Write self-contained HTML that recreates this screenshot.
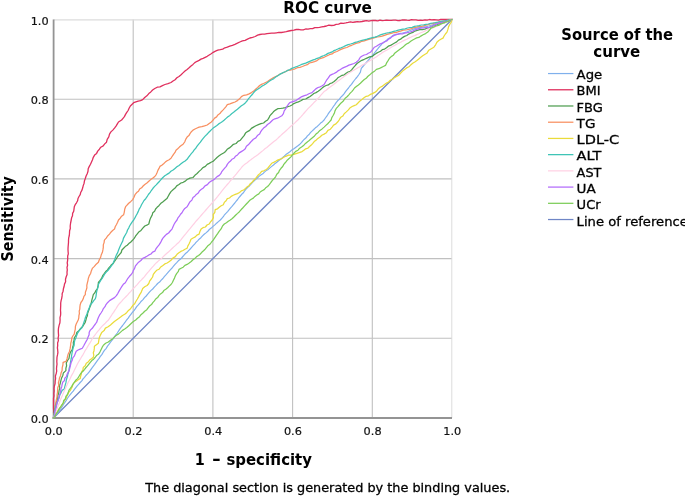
<!DOCTYPE html>
<html lang="en"><head><meta charset="utf-8"><title>ROC curve</title>
<style>html,body{margin:0;padding:0;background:#fff}body{width:685px;height:496px;overflow:hidden}svg{display:block}</style>
</head><body>
<svg width="685" height="496" viewBox="0 0 685 496">
<rect width="685" height="496" fill="#fff"/>
<g stroke="#c0c0c0" stroke-width="1.1" fill="none">
<line x1="133.2" y1="19.5" x2="133.2" y2="418.0"/>
<line x1="212.9" y1="19.5" x2="212.9" y2="418.0"/>
<line x1="292.6" y1="19.5" x2="292.6" y2="418.0"/>
<line x1="372.3" y1="19.5" x2="372.3" y2="418.0"/>
<line x1="53.5" y1="338.3" x2="452.0" y2="338.3"/>
<line x1="53.5" y1="258.6" x2="452.0" y2="258.6"/>
<line x1="53.5" y1="178.9" x2="452.0" y2="178.9"/>
<line x1="53.5" y1="99.2" x2="452.0" y2="99.2"/>
</g>
<g stroke="#dcdcdc" stroke-width="1" fill="none"><line x1="53.5" y1="19.9" x2="452.0" y2="19.9" stroke-width="1.3"/><line x1="451.8" y1="19.5" x2="451.8" y2="418.0"/></g>
<g stroke="#949494" stroke-width="1.8" fill="none"><line x1="53.6" y1="19.5" x2="53.6" y2="418.9"/><line x1="52.7" y1="418.0" x2="452.0" y2="418.0"/></g>
<g>
<polyline points="53.5,418.0 452.0,19.5" fill="none" stroke="#6f86c6" stroke-width="1.25" stroke-linejoin="round" stroke-linecap="round"/>
<polyline points="53.5,418.0 54.8,416.0 56.5,414.3 57.9,412.4 59.3,410.5 60.8,408.7 62.1,406.7 63.3,404.6 64.7,402.6 66.1,400.6 67.3,398.5 68.7,396.5 70.2,394.6 71.6,392.9 73.2,391.2 74.4,389.4 75.8,387.6 77.2,385.8 78.8,384.2 80.2,382.5 81.8,380.9 83.0,378.9 84.5,377.3 85.9,375.5 87.5,373.9 89.0,372.2 90.3,370.4 91.7,368.3 93.2,366.3 94.7,364.4 96.1,362.3 97.5,360.3 99.1,358.4 100.4,356.3 102.0,354.4 103.2,352.2 104.6,350.2 106.3,348.3 107.5,346.1 109.1,344.2 110.5,342.2 111.9,340.4 113.3,338.6 114.6,336.7 115.9,334.8 117.3,333.0 118.5,331.1 119.8,329.2 121.1,327.3 122.6,325.5 124.0,323.7 125.3,321.9 126.6,320.0 128.2,318.2 129.5,316.2 130.9,314.3 132.4,312.4 134.0,310.6 135.4,308.7 136.7,306.7 138.3,304.9 139.8,303.1 141.3,301.2 143.0,299.6 144.5,297.7 146.2,296.0 147.7,294.2 149.2,292.3 150.8,290.6 152.7,289.0 154.3,287.1 156.0,285.3 157.6,283.5 159.6,282.1 161.2,280.2 162.9,278.5 164.3,276.6 165.9,274.9 167.4,273.2 168.9,271.4 170.5,269.6 172.1,268.0 173.5,266.2 175.0,264.4 176.7,262.6 178.3,260.8 180.3,259.3 182.0,257.5 183.6,255.7 185.2,253.8 187.1,252.3 188.6,250.6 190.2,249.0 191.6,247.4 193.1,245.7 194.6,244.1 196.0,242.4 197.6,240.8 199.1,239.2 200.9,237.7 202.5,235.9 204.2,234.3 206.0,232.9 207.8,231.3 209.3,229.5 211.2,228.1 213.0,226.4 214.9,224.9 216.6,223.2 218.4,221.6 220.3,220.0 221.8,218.3 223.3,216.7 224.5,214.8 226.1,213.2 227.6,211.6 229.0,209.8 230.4,208.1 232.0,206.4 233.4,204.7 234.8,203.0 236.2,201.2 237.6,199.5 238.9,197.7 240.3,196.0 241.7,194.3 243.4,192.8 244.6,190.9 246.0,189.2 247.5,187.5 249.2,186.0 250.8,184.4 252.3,182.6 253.9,181.1 255.5,179.5 257.3,178.0 259.0,176.4 260.8,175.0 262.8,173.8 264.4,172.1 266.2,170.6 268.2,169.4 269.9,167.9 271.7,166.4 273.5,165.0 275.2,163.4 277.1,162.0 278.8,160.5 280.7,159.2 282.5,157.7 284.2,156.2 285.9,154.6 287.8,153.3 289.9,151.8 291.7,150.1 293.9,148.8 295.9,147.2 297.9,145.8 299.9,144.2 301.4,142.6 302.8,140.8 304.4,139.2 306.1,137.8 307.4,135.9 309.1,134.5 310.4,132.6 312.0,131.1 313.7,129.5 315.4,127.8 317.3,126.4 318.9,124.8 320.6,123.1 322.5,121.7 324.1,120.0 325.4,118.0 326.8,116.2 328.0,114.2 329.4,112.2 330.8,110.4 332.1,108.5 333.4,106.5 334.8,104.6 336.1,102.7 337.6,100.8 339.4,99.1 340.9,97.1 342.6,95.5 344.2,93.6 345.5,91.7 346.9,89.8 348.5,88.0 349.9,86.0 351.5,84.3 352.8,82.4 354.2,80.5 355.8,78.5 357.4,76.6 358.9,74.5 360.3,72.4 361.3,68.4 362.9,66.5 364.5,64.7 366.0,62.8 367.7,61.0 369.3,59.1 370.7,57.1 372.4,55.3 373.9,53.6 375.3,51.9 376.7,50.1 378.1,48.4 379.5,46.6 381.1,45.0 382.5,43.2 384.4,42.0 386.3,40.6 387.9,39.0 389.9,37.9 391.7,36.4 393.6,35.1 395.8,34.6 398.0,34.1 400.2,33.4 402.4,33.0 404.6,32.5 407.1,31.8 409.5,30.7 411.9,29.7 414.3,28.9 416.7,28.1 419.2,27.6 421.6,27.4 424.0,26.9 426.4,26.6 428.8,26.0 431.6,25.2 434.3,24.2 436.9,23.0 439.1,22.6 441.3,22.2 443.3,21.4 445.5,21.0 447.7,20.5 449.8,20.0 452.0,19.5" fill="none" stroke="#7fb0ec" stroke-width="1.2" stroke-linejoin="round" stroke-linecap="round"/>
<polyline points="53.5,418.0 53.8,415.5 53.6,413.0 53.7,410.6 53.5,408.1 53.5,405.6 53.5,403.1 53.5,400.6 53.5,398.2 54.0,395.8 53.8,393.4 54.2,391.0 54.0,388.5 54.4,386.0 55.1,383.6 55.2,381.0 55.6,378.5 55.4,376.0 56.2,373.6 56.7,371.2 56.5,368.8 56.7,366.4 57.0,364.1 56.8,361.8 56.9,359.4 57.0,357.1 57.5,354.9 57.9,352.6 57.7,350.2 57.4,347.8 57.7,345.4 57.6,343.0 58.4,340.6 58.1,338.1 58.6,335.6 58.4,333.1 58.3,330.6 58.5,328.1 59.1,325.4 59.9,322.8 60.1,320.0 60.0,317.6 60.6,315.2 60.7,312.8 60.5,310.3 60.6,307.9 60.7,305.5 60.7,303.0 61.1,300.6 61.7,298.3 62.1,295.9 62.2,293.5 63.1,291.2 63.4,288.8 64.1,286.5 64.5,284.1 65.6,281.8 65.5,279.2 66.2,276.8 67.1,274.4 67.0,272.1 67.3,269.8 67.0,267.5 67.6,265.2 67.2,262.9 67.6,260.6 67.7,258.3 67.7,256.0 68.3,253.8 68.1,251.5 68.0,249.2 68.1,247.0 68.3,244.7 68.5,242.4 68.5,240.2 68.7,237.8 69.3,235.5 69.5,233.1 69.6,230.8 70.3,228.5 70.2,226.0 70.6,223.0 71.2,220.0 71.6,217.8 72.5,215.7 72.6,213.4 73.7,211.3 74.0,209.1 74.3,206.8 75.2,204.7 76.5,202.8 77.6,200.8 78.0,198.5 79.0,196.5 80.2,194.6 80.8,192.2 82.0,190.1 82.7,187.8 83.3,185.4 84.1,183.2 84.5,180.7 85.3,178.5 86.1,176.0 87.2,173.7 88.0,171.3 88.2,168.7 89.3,166.4 90.5,164.2 91.5,161.9 92.5,159.7 93.3,157.3 94.6,155.1 96.6,153.4 97.7,151.1 99.4,149.2 100.8,147.2 103.2,145.9 104.7,143.9 106.5,142.2 107.2,139.4 108.8,136.9 109.5,134.1 110.9,131.9 112.8,130.1 114.5,128.1 116.0,126.1 117.2,124.1 118.5,122.0 121.6,120.0 123.0,118.3 124.4,116.6 125.4,114.6 126.6,112.7 128.1,110.5 129.2,108.0 130.6,105.7 133.7,102.7 135.9,101.9 138.2,101.1 140.5,100.6 142.7,99.6 144.7,97.5 146.9,95.8 148.8,93.6 150.8,91.9 152.6,90.0 154.8,88.5 157.2,87.2 160.0,86.9 162.4,85.6 164.9,84.5 168.0,83.6 171.0,82.5 173.0,81.0 175.1,79.7 176.9,77.8 179.0,76.5 181.1,74.7 183.0,72.9 185.0,71.0 187.1,69.4 189.1,67.8 191.0,66.0 193.0,64.4 194.8,62.6 197.1,61.3 199.1,60.4 201.0,59.1 203.1,58.3 205.2,57.3 207.2,56.3 209.2,55.0 211.2,53.7 213.2,52.3 215.5,51.1 217.8,50.2 220.3,49.7 222.7,49.1 224.9,47.8 227.3,47.2 229.8,46.1 232.4,45.3 234.9,44.3 237.4,43.2 239.8,42.0 242.4,40.9 245.1,40.4 247.5,39.2 249.9,38.0 252.6,37.3 255.2,36.5 257.6,35.1 259.9,34.5 262.2,34.1 264.6,34.2 267.0,33.6 269.3,33.3 271.7,33.1 274.1,33.2 276.5,32.8 278.9,32.4 281.4,32.5 283.8,32.1 286.3,31.7 288.8,31.0 291.3,30.5 293.9,30.1 296.2,29.5 298.5,29.3 300.9,29.8 303.3,29.8 305.6,29.0 308.0,29.1 310.3,28.7 312.6,28.7 314.8,27.6 317.2,27.7 319.5,27.3 321.8,26.8 324.1,26.5 326.5,26.0 328.8,25.2 331.3,25.5 333.8,25.3 336.1,24.4 338.6,24.2 340.9,23.2 343.4,23.3 345.8,22.9 348.2,22.4 350.5,21.8 352.8,22.4 355.1,22.0 357.4,21.7 359.7,21.8 362.0,21.5 364.3,21.0 366.6,20.6 368.8,21.1 371.0,20.7 373.3,20.4 375.5,20.5 377.8,20.9 380.0,20.1 382.2,20.6 384.5,20.4 386.7,20.1 389.0,20.4 391.2,20.3 393.5,20.1 395.7,20.1 398.0,20.6 400.2,20.5 402.5,19.8 404.7,20.0 407.0,20.2 409.2,20.3 411.5,19.7 413.7,19.9 416.0,19.8 418.2,20.3 420.5,20.2 422.7,20.3 425.0,19.8 427.2,20.2 429.5,19.5 431.7,19.8 434.0,19.6 436.2,19.8 438.5,20.1 440.7,19.5 443.0,19.5 445.2,19.5 447.5,19.5 449.7,19.5 452.0,19.5" fill="none" stroke="#e0305e" stroke-width="1.3" stroke-linejoin="round" stroke-linecap="round"/>
<polyline points="53.5,418.0 53.8,415.3 54.3,412.6 54.4,409.9 55.3,407.8 55.4,405.4 56.0,403.2 56.9,401.0 57.6,398.4 57.8,395.7 58.7,393.1 59.1,390.4 59.8,388.1 59.5,385.8 60.2,383.5 60.7,381.3 61.5,378.2 62.9,375.2 63.3,373.0 65.9,370.6 65.9,368.1 66.6,365.7 66.3,363.1 67.4,360.7 69.0,358.5 69.3,356.3 69.8,354.1 70.8,351.6 72.4,349.4 72.6,347.1 73.4,345.0 73.3,342.5 74.0,340.2 74.5,337.5 76.1,335.1 76.8,332.5 78.9,330.6 80.6,328.4 82.7,326.5 83.9,324.4 85.2,322.3 85.9,320.0 86.4,317.8 87.4,315.7 87.6,313.4 88.4,311.3 89.2,309.1 89.9,307.0 90.8,304.9 91.3,302.7 91.9,299.9 92.6,297.3 93.3,294.6 94.9,292.7 95.9,290.5 97.4,288.5 98.1,285.6 98.4,282.5 100.1,280.4 101.7,278.2 102.7,275.6 104.4,273.4 105.7,271.6 107.5,270.1 108.6,268.1 110.2,266.5 111.5,264.7 113.4,263.3 114.5,261.3 116.2,259.0 117.7,256.5 119.6,254.3 121.2,252.5 121.9,250.0 123.6,248.2 125.2,246.6 127.2,245.3 128.8,243.6 130.6,242.2 132.5,240.3 134.2,238.4 135.5,236.2 137.1,234.1 138.7,232.1 141.0,230.4 142.8,228.2 144.8,226.0 146.8,225.2 148.8,224.0 149.8,220.0 150.8,217.6 152.1,215.3 152.8,212.7 154.6,211.2 155.6,209.0 157.1,207.3 158.9,205.7 160.6,203.6 162.7,202.0 164.8,200.3 166.9,198.6 168.2,196.2 169.5,193.9 171.0,191.6 173.0,189.8 175.1,188.1 176.7,185.9 179.0,184.5 180.9,183.0 183.2,182.3 185.3,181.1 187.1,179.5 189.9,178.1 193.0,177.5 194.9,175.3 197.1,173.5 199.1,171.4 201.1,169.6 202.9,167.6 205.4,166.4 207.2,164.4 209.2,163.4 211.1,162.3 213.2,161.3 215.1,159.4 217.0,157.5 219.1,155.8 221.3,154.3 223.6,153.0 225.6,151.4 227.2,149.3 229.4,147.9 231.4,146.2 233.4,144.3 236.1,143.5 238.0,141.4 240.4,140.2 242.2,137.9 244.1,135.6 245.5,133.1 247.5,131.6 249.7,130.4 251.4,128.4 253.5,127.1 255.9,125.7 258.4,124.6 260.9,123.7 263.6,123.0 265.5,121.3 267.6,120.0 268.9,117.9 270.0,115.6 271.7,113.8 273.4,111.8 275.5,110.1 277.7,108.7 280.3,108.5 282.8,108.1 285.4,107.6 287.8,106.7 290.0,106.0 292.0,105.0 293.8,103.6 295.9,102.7 298.4,101.9 300.8,100.8 303.0,99.4 305.7,99.0 308.0,97.6 310.1,96.5 312.0,95.1 313.8,93.5 316.0,92.6 318.2,91.2 320.2,89.8 322.1,88.1 324.1,86.5 326.1,85.5 328.3,84.9 330.1,83.5 332.2,82.8 334.1,81.5 336.1,79.8 337.8,77.8 340.1,76.5 342.1,75.3 344.3,74.8 346.1,73.2 348.0,72.0 350.2,71.4 352.0,69.4 353.6,67.3 355.4,65.3 357.3,63.3 359.5,61.8 361.8,60.3 364.3,59.3 366.9,58.1 369.6,56.9 372.4,56.3 374.2,54.7 376.2,53.4 378.3,52.3 380.5,51.2 382.3,49.7 384.6,49.1 386.5,47.8 388.3,46.2 390.6,45.4 392.5,44.2 394.6,43.0 396.7,41.9 398.4,40.1 400.6,39.2 402.5,37.6 404.5,36.4 406.8,35.5 408.7,34.1 410.7,33.2 412.9,32.4 414.7,31.1 417.2,30.4 419.7,29.7 422.3,29.7 424.8,29.1 427.5,28.0 430.2,27.2 432.9,26.0 435.6,25.5 438.2,24.4 440.9,23.6 443.2,23.1 445.5,22.3 447.6,21.3 449.8,20.3 452.0,19.5" fill="none" stroke="#4f9e50" stroke-width="1.25" stroke-linejoin="round" stroke-linecap="round"/>
<polyline points="53.5,418.0 53.9,415.7 54.3,413.4 55.0,411.1 55.0,408.7 55.8,406.4 55.9,404.0 56.0,401.6 56.4,399.3 57.0,397.0 57.1,394.6 57.5,392.3 57.6,389.9 57.8,387.5 58.8,385.2 58.4,382.8 59.1,380.5 59.5,377.9 60.6,375.4 61.1,372.8 62.1,370.4 62.2,367.7 62.9,365.0 63.1,362.3 66.1,361.3 67.0,359.0 67.5,356.6 68.1,354.3 69.5,351.4 70.2,348.2 70.6,345.7 70.8,343.2 71.5,340.7 71.8,338.1 72.8,336.0 74.2,334.1 74.7,331.6 75.3,329.1 75.4,326.5 76.2,324.0 77.2,322.0 78.2,320.0 78.8,317.8 78.9,315.6 79.4,313.5 79.2,311.2 79.8,309.1 79.9,306.9 80.2,304.7 80.9,302.5 82.3,300.7 83.3,298.6 83.9,296.4 85.3,294.6 85.4,292.2 86.2,290.0 86.9,287.7 86.8,285.3 87.3,283.1 87.9,280.8 88.3,278.5 89.2,275.9 90.6,273.5 91.3,270.9 92.3,268.4 94.4,266.4 96.2,264.2 98.4,262.3 99.3,259.8 100.6,257.4 101.3,254.7 102.4,252.3 102.9,249.9 103.3,247.4 103.3,244.9 104.1,242.6 104.4,240.2 106.2,238.2 107.6,236.0 109.5,234.1 110.9,232.2 112.6,230.5 114.5,229.1 115.2,226.7 116.5,224.5 117.6,222.3 118.5,220.0 120.2,218.2 121.6,216.2 123.6,214.8 124.3,212.1 124.7,209.3 125.6,206.7 127.3,204.8 129.0,203.0 130.9,201.4 132.7,199.6 134.0,197.3 135.0,194.7 136.7,192.6 138.5,191.2 139.6,189.1 141.6,187.8 143.1,186.0 144.8,184.5 146.9,183.0 148.8,181.3 150.7,179.6 152.9,178.1 154.8,176.5 156.2,174.6 157.1,172.5 157.9,170.4 159.0,168.4 159.9,166.4 161.8,165.2 163.6,163.7 165.3,162.1 167.1,160.7 169.1,159.7 171.0,158.3 172.2,156.3 173.5,154.3 175.0,152.4 176.0,150.2 177.7,148.7 179.4,147.1 181.2,145.6 183.1,144.2 184.7,142.0 185.7,139.4 187.1,137.1 188.9,135.6 190.0,133.6 191.4,131.7 193.0,130.1 195.0,129.0 197.1,128.0 199.1,127.1 201.9,126.7 204.5,125.9 207.2,125.0 209.2,123.4 211.4,121.9 213.2,120.0 214.6,118.1 216.6,116.9 217.9,114.9 219.9,113.6 221.3,111.7 222.9,110.1 224.5,108.4 226.0,106.6 227.3,104.7 229.9,103.9 232.5,102.9 235.0,102.0 237.4,100.6 239.6,98.8 241.4,96.6 243.8,95.3 246.6,94.9 249.1,93.9 251.5,92.6 253.7,91.1 255.6,89.2 257.7,87.5 259.6,85.5 261.5,84.4 263.6,83.5 265.6,82.5 267.6,81.5 269.6,80.1 271.6,78.8 273.6,77.5 275.7,76.5 277.8,75.6 279.7,74.3 281.7,73.3 283.8,72.5 285.8,71.5 287.8,70.4 290.3,70.1 292.7,69.5 295.1,68.8 297.4,67.7 299.9,67.4 302.4,66.5 304.8,65.5 307.3,64.7 309.5,63.0 312.0,62.3 314.5,61.6 317.0,60.6 319.1,59.0 321.6,58.1 324.1,57.3 326.7,56.0 329.3,54.7 332.1,53.9 334.3,52.3 336.9,51.5 339.3,50.2 341.7,49.2 344.2,48.2 346.8,47.5 349.2,46.2 351.7,45.3 354.2,44.2 356.7,43.2 359.3,42.6 361.7,41.3 364.3,40.8 367.0,39.9 369.7,39.1 372.4,38.3 374.8,37.7 377.2,37.0 379.7,36.7 382.1,36.1 384.5,35.3 387.1,34.3 389.9,33.7 392.0,33.1 394.2,32.5 396.4,32.5 398.5,31.6 400.6,31.1 403.2,30.2 406.0,30.0 408.7,29.3 411.4,28.7 414.0,27.7 416.7,27.1 419.0,26.3 421.4,26.5 423.7,25.9 426.0,25.2 428.3,24.7 430.5,23.7 432.9,23.6 435.2,23.0 437.7,22.7 440.1,22.4 442.5,21.9 444.8,21.0 447.2,20.3 449.7,20.3 452.0,19.5" fill="none" stroke="#f88f60" stroke-width="1.25" stroke-linejoin="round" stroke-linecap="round"/>
<polyline points="53.5,418.0 54.9,416.2 55.7,414.0 57.0,412.2 58.2,410.3 59.6,408.4 60.9,406.6 62.1,404.7 63.4,402.8 64.2,400.5 65.9,398.8 66.6,396.6 67.8,394.5 68.7,392.4 70.2,390.6 71.2,388.6 72.3,386.6 72.9,384.4 74.2,382.5 76.3,381.3 78.2,379.8 80.2,378.5 80.7,376.2 81.3,374.0 81.7,371.7 82.9,369.7 83.3,367.4 85.2,365.7 86.3,363.3 88.2,362.0 89.6,360.1 91.5,358.7 93.3,357.3 93.8,355.1 93.3,352.8 94.0,350.7 94.3,348.4 94.4,346.2 96.4,344.7 98.4,343.2 98.8,340.4 99.3,337.7 100.4,335.1 101.7,332.5 104.1,330.6 105.4,328.1 108.1,326.8 110.5,325.0 112.4,323.3 114.4,321.6 116.5,320.0 118.6,318.6 120.6,317.1 122.5,315.5 124.7,314.3 126.6,312.7 128.1,310.8 130.0,309.3 131.5,307.4 132.9,305.3 134.7,303.7 136.0,301.3 137.4,299.0 138.7,296.6 139.7,294.6 141.0,292.7 141.9,290.6 142.7,288.5 144.7,286.8 147.1,285.5 148.8,283.5 149.6,281.1 151.2,279.0 152.6,277.0 153.3,274.4 154.8,272.4 156.6,270.3 159.1,269.2 160.7,267.0 162.9,265.4 164.8,263.9 167.1,263.0 169.0,261.7 171.0,260.3 172.8,258.1 175.3,256.6 177.0,254.3 178.9,252.8 180.8,251.4 183.0,250.5 185.0,249.2 187.1,248.2 187.9,245.9 189.1,243.7 190.1,241.5 191.0,239.2 193.1,238.0 195.3,236.9 196.9,235.1 199.1,234.1 199.9,231.5 201.1,229.1 203.0,227.7 205.4,227.0 207.0,225.0 209.2,224.0 210.5,221.9 212.2,220.0 213.4,217.6 213.2,214.7 214.8,212.4 215.2,209.7 217.5,208.8 219.2,207.2 221.2,205.7 223.3,204.7 224.3,202.4 226.1,200.7 227.3,198.6 229.5,198.0 231.2,196.4 233.2,195.3 235.3,194.4 237.4,193.6 239.6,192.5 241.3,190.9 243.6,190.0 245.5,188.5 247.1,186.9 249.0,185.7 250.3,183.7 252.1,182.3 253.5,180.5 255.3,178.8 256.8,176.9 258.3,175.0 260.1,173.4 261.6,171.4 263.8,170.8 265.8,169.7 267.6,168.4 269.6,165.8 271.7,163.3 273.7,162.4 275.7,161.3 277.6,160.1 279.7,159.3 281.9,158.5 283.8,157.3 285.8,156.3 288.4,155.2 291.2,155.2 293.9,154.3 296.9,153.3 299.9,152.3 302.1,151.6 303.9,150.2 305.7,148.8 308.0,148.2 309.5,146.5 311.3,145.1 312.8,143.4 314.2,141.6 316.0,140.2 317.9,138.4 320.0,137.0 321.8,135.2 324.1,134.1 326.4,132.7 327.9,130.4 330.4,129.2 332.1,127.1 333.6,125.1 335.9,123.9 337.6,122.0 339.1,120.0 340.5,117.6 342.8,116.1 344.2,113.8 346.3,111.9 348.4,109.9 350.2,107.7 352.1,106.5 354.2,105.6 356.3,104.7 358.2,102.8 360.0,100.9 362.2,99.3 364.3,97.6 366.2,96.3 368.4,95.8 370.3,94.4 372.4,93.6 374.7,92.4 376.7,90.9 378.3,88.9 380.2,87.2 382.5,86.1 384.5,84.5 386.5,83.1 388.6,82.0 390.3,80.2 392.6,79.2 394.4,77.6 396.6,76.5 398.9,75.1 400.7,73.0 402.6,71.1 404.6,69.4 406.6,67.9 409.0,66.8 410.7,64.9 412.7,63.3 414.8,62.0 416.9,60.5 418.8,58.9 420.8,57.3 422.7,55.8 424.7,54.5 426.8,53.3 428.8,50.2 431.3,48.7 433.9,47.2 435.6,44.8 436.9,42.2 438.8,40.6 440.8,39.3 443.0,38.1 444.1,36.0 445.4,34.0 447.0,32.1 447.9,29.4 448.6,26.6 450.0,24.0 451.4,21.9 452.0,19.5" fill="none" stroke="#eadb3a" stroke-width="1.25" stroke-linejoin="round" stroke-linecap="round"/>
<polyline points="53.5,418.0 54.0,415.6 54.3,413.2 54.9,410.9 55.2,408.5 56.2,406.1 56.9,403.6 57.7,401.0 58.3,398.9 59.3,396.9 59.9,394.8 61.1,392.6 62.1,390.4 64.3,389.0 65.0,385.8 65.9,382.7 66.4,379.7 67.3,376.9 68.0,373.7 69.0,370.6 69.2,368.1 70.0,365.6 70.4,363.1 70.8,360.7 71.3,358.2 71.6,355.7 72.1,352.5 72.8,349.4 73.4,347.2 74.2,345.0 74.3,342.6 74.8,340.2 75.9,337.9 76.7,335.4 77.6,333.1 78.9,331.2 80.3,329.4 81.9,327.7 82.9,325.1 83.8,322.6 84.7,320.0 85.3,317.8 86.3,315.6 87.1,313.4 87.8,311.2 88.8,309.1 89.6,306.9 90.3,304.7 92.2,302.8 93.7,300.6 95.4,298.6 96.0,296.3 96.3,293.9 96.7,291.5 97.3,289.2 98.1,286.9 98.4,284.5 99.5,282.5 100.7,280.4 102.1,278.5 103.3,276.5 104.4,274.4 106.0,272.4 107.8,270.5 109.4,268.5 111.0,266.4 112.5,264.4 113.6,262.0 114.6,259.7 115.5,257.3 116.4,254.9 117.7,252.6 118.5,250.2 119.5,247.8 120.5,245.5 121.6,243.2 122.8,240.9 123.4,238.4 124.6,236.1 125.7,234.2 126.8,232.2 127.5,230.0 128.7,228.1 129.6,226.0 130.9,223.9 132.2,221.9 133.7,220.0 134.9,217.9 136.0,215.7 137.2,213.6 138.3,211.4 139.2,209.1 140.5,207.0 141.5,204.8 142.7,202.7 144.0,200.5 145.7,198.7 147.1,196.7 148.4,194.5 150.0,192.7 151.3,190.5 152.8,188.5 154.4,186.6 156.2,184.9 157.9,183.0 159.6,181.2 161.2,179.3 162.9,177.5 164.8,175.8 166.9,174.4 169.1,173.1 170.9,171.3 173.1,170.0 175.0,168.4 176.9,166.8 179.0,165.4 181.0,163.8 183.0,162.3 185.1,160.9 187.1,159.3 188.4,157.3 189.9,155.5 191.3,153.6 192.9,151.9 194.2,149.9 195.8,148.2 197.1,146.2 198.7,144.2 200.4,142.2 201.8,140.1 203.4,138.1 205.1,136.1 206.8,134.5 208.3,132.8 209.9,131.2 211.5,129.6 213.2,128.1 215.1,126.7 216.9,125.4 218.7,123.9 220.6,122.7 222.5,121.4 224.3,120.0 226.1,118.4 227.9,116.8 229.9,115.4 231.6,113.7 233.6,112.3 235.4,110.7 237.4,109.2 239.4,107.5 241.4,105.8 243.5,104.4 245.5,102.7 247.0,101.0 248.2,99.1 249.7,97.4 251.1,95.7 252.7,94.0 254.0,92.2 255.5,90.6 257.6,89.3 259.6,87.9 261.5,86.4 263.7,85.3 265.7,83.9 267.6,82.5 269.6,81.0 271.7,79.8 273.8,78.6 275.7,77.1 277.7,75.7 279.7,74.4 281.7,73.4 283.7,72.3 285.8,71.5 287.8,70.3 289.9,69.5 291.8,68.4 294.2,67.5 296.5,66.7 298.8,65.7 301.0,64.7 303.3,63.9 305.7,63.1 308.0,62.1 310.3,61.1 312.6,60.2 314.9,59.4 317.2,58.3 319.6,57.6 321.8,56.3 324.1,55.5 326.1,54.6 328.0,53.4 330.1,52.7 332.2,51.9 334.0,50.6 336.1,49.8 338.5,48.7 341.0,47.9 343.4,46.8 345.7,45.6 348.2,44.6 350.5,44.0 352.8,43.3 355.1,42.4 357.4,41.9 359.7,41.0 362.0,40.4 364.3,39.8 367.0,39.1 369.7,38.3 372.4,37.7 374.9,37.1 377.3,36.3 379.6,35.2 382.0,34.4 384.5,33.7 386.8,33.0 389.1,32.7 391.4,32.1 393.7,31.4 396.0,30.9 398.3,30.2 400.6,29.7 402.9,29.2 405.2,28.8 407.5,28.0 409.8,27.5 412.2,27.3 414.4,26.4 416.7,26.0 419.1,25.7 421.3,25.0 423.7,24.9 426.0,24.3 428.3,24.0 430.6,23.4 432.9,23.0 435.3,22.6 437.7,22.1 440.0,21.5 442.4,21.1 444.8,20.9 447.2,20.3 449.6,19.9 452.0,19.5" fill="none" stroke="#3fc4b6" stroke-width="1.25" stroke-linejoin="round" stroke-linecap="round"/>
<polyline points="53.5,418.0 54.3,415.8 55.1,413.6 55.9,411.5 56.9,409.4 57.6,407.1 58.4,405.0 59.4,402.9 60.1,400.6 61.0,398.6 61.9,396.6 62.7,394.6 63.6,392.6 64.5,390.6 65.4,388.5 66.3,386.5 67.2,384.5 68.1,382.5 69.2,380.5 70.2,378.5 71.1,376.4 72.2,374.4 73.3,372.5 74.2,370.4 75.2,368.4 76.2,366.4 77.3,364.3 78.4,362.3 79.6,360.3 80.8,358.3 81.9,356.3 83.2,354.3 84.3,352.3 85.3,350.3 86.6,348.5 87.6,346.6 88.8,344.7 90.0,342.9 91.1,341.0 92.1,339.0 93.3,337.1 94.7,335.3 96.1,333.5 97.5,331.7 99.1,329.9 100.4,328.1 101.9,326.4 103.6,324.8 105.3,323.2 106.8,321.5 108.5,320.0 109.7,318.1 111.0,316.2 112.2,314.2 113.6,312.4 114.8,310.4 116.1,308.5 117.2,306.6 118.5,304.7 120.0,303.0 121.6,301.4 123.0,299.7 124.5,298.1 126.1,296.5 127.7,294.9 129.1,293.1 130.6,291.6 132.1,289.9 133.6,288.2 135.2,286.7 136.7,285.1 138.2,283.3 139.6,281.7 141.2,280.1 142.7,278.5 144.3,276.8 145.8,274.9 147.2,273.1 148.8,271.4 150.2,269.6 151.7,267.8 153.3,266.1 154.8,264.4 156.5,262.7 158.2,261.1 160.0,259.6 161.8,258.1 163.5,256.4 165.2,254.8 166.9,253.3 168.7,251.7 170.4,250.1 172.1,248.5 173.8,246.9 175.6,245.4 177.2,243.7 179.0,242.2 180.7,240.2 182.2,238.1 183.8,236.1 185.5,234.1 187.1,232.1 188.5,230.4 190.0,228.7 191.4,226.9 192.8,225.2 194.3,223.5 195.6,221.7 197.1,220.0 198.6,218.3 200.1,216.7 201.5,215.0 202.9,213.3 204.5,211.7 205.9,210.0 207.3,208.3 208.8,206.6 210.3,205.0 211.7,203.3 213.2,201.7 214.7,200.0 216.1,198.3 217.5,196.6 218.9,194.8 220.3,193.1 221.6,191.3 223.0,189.6 224.4,187.9 225.9,186.2 227.3,184.5 228.8,182.8 230.2,181.0 231.7,179.3 233.2,177.6 234.7,175.9 236.2,174.1 237.6,172.3 239.0,170.6 240.5,168.8 241.9,167.0 243.5,165.4 245.2,164.0 247.1,162.7 248.8,161.3 250.6,159.9 252.4,158.6 254.1,157.2 256.0,156.0 257.8,154.7 259.6,153.3 261.4,151.8 263.2,150.4 264.9,148.8 266.8,147.5 268.5,146.0 270.3,144.5 272.1,143.0 273.9,141.5 275.7,140.2 277.5,138.6 279.1,137.0 280.9,135.4 282.6,133.8 284.4,132.3 286.1,130.7 287.8,129.1 289.5,127.5 291.1,126.0 292.9,124.6 294.6,123.1 296.2,121.5 297.9,120.0 299.6,118.1 301.3,116.3 303.0,114.4 304.6,112.5 306.3,110.6 308.0,108.7 309.6,107.1 311.2,105.5 312.8,103.8 314.3,102.2 316.0,100.6 317.6,98.8 319.3,97.1 320.9,95.2 322.5,93.4 324.1,91.6 326.2,90.2 328.1,88.5 330.1,87.1 332.2,85.6 334.1,84.0 336.1,82.5 338.1,80.9 340.2,79.6 342.1,77.9 344.1,76.4 346.2,74.9 348.2,73.4 350.2,72.2 352.2,71.1 354.2,69.9 356.3,68.8 358.3,67.6 360.3,66.4 362.2,65.1 364.4,64.1 366.4,62.9 368.3,61.6 370.3,60.4 372.4,59.3 374.4,58.0 376.5,56.7 378.4,55.3 380.5,54.0 382.5,52.6 384.5,51.2 386.6,50.2 388.6,49.0 390.6,47.8 392.6,46.6 394.6,45.4 396.6,44.2 398.6,43.2 400.7,42.3 402.6,41.1 404.6,40.1 406.7,39.2 408.7,38.1 410.7,37.3 412.7,36.3 414.8,35.6 416.7,34.6 418.8,33.8 420.7,32.8 422.8,32.0 424.8,31.1 427.2,30.0 429.7,29.1 432.1,28.1 434.5,27.1 436.9,26.0 439.1,25.1 441.2,24.2 443.4,23.2 445.5,22.3 447.7,21.4 449.8,20.4 452.0,19.5" fill="none" stroke="#ffcfe3" stroke-width="1.2" stroke-linejoin="round" stroke-linecap="round"/>
<polyline points="53.5,418.0 54.4,415.9 55.0,413.8 54.9,411.4 55.6,409.3 56.3,407.1 56.6,404.9 57.1,402.7 58.1,400.6 58.9,398.4 59.1,396.0 60.0,393.8 60.7,391.5 60.9,389.1 61.7,386.9 62.1,384.5 62.7,382.3 64.4,380.6 64.8,378.3 66.4,376.6 67.1,374.4 68.1,372.4 69.3,370.1 69.9,367.6 70.5,365.2 71.1,362.6 72.2,360.3 72.8,357.9 74.4,355.9 75.3,353.5 76.2,351.2 78.1,350.0 80.2,349.1 82.3,348.2 83.6,346.0 84.8,343.7 86.1,341.4 87.3,339.2 88.1,336.9 89.1,334.7 89.2,332.2 90.3,330.1 92.3,328.3 93.8,326.1 95.4,324.0 96.7,322.2 97.4,320.0 98.4,317.5 99.5,315.2 101.0,313.0 102.4,310.7 103.4,308.6 105.0,306.7 106.0,304.6 107.5,302.7 109.6,300.6 112.0,299.1 114.5,297.6 116.4,295.6 117.9,293.3 119.2,290.9 120.6,288.5 121.9,286.4 123.3,284.3 125.3,282.7 126.6,280.5 127.9,278.3 129.5,276.3 131.2,274.5 132.7,272.4 133.4,270.3 134.6,268.4 135.3,266.2 136.7,264.4 138.6,262.2 140.9,260.5 142.7,258.3 144.9,257.4 146.9,256.2 148.9,254.9 151.0,254.0 152.6,252.1 154.8,251.2 155.9,248.9 157.4,246.8 159.1,244.9 160.5,242.7 161.6,240.4 162.9,238.1 164.6,236.3 166.4,234.4 168.6,233.0 170.2,231.0 172.0,229.1 173.0,226.7 174.1,224.3 175.4,222.1 177.0,220.0 177.9,217.9 179.4,216.2 180.5,214.3 182.0,212.7 183.1,210.7 184.8,208.4 187.1,206.7 188.5,204.4 189.8,202.0 191.9,200.1 193.0,197.6 194.8,196.2 196.3,194.4 198.2,193.1 199.4,191.0 201.1,189.6 203.3,188.0 205.0,185.9 207.4,184.6 209.2,182.5 211.2,181.1 213.4,180.0 215.3,178.4 217.1,176.6 219.3,175.4 220.8,173.7 221.8,171.6 223.2,169.9 224.7,168.1 226.3,166.4 227.3,164.4 228.7,162.5 230.5,161.0 231.9,159.3 234.1,158.2 235.4,156.3 237.5,154.9 239.2,152.9 241.3,151.6 243.5,150.2 245.3,148.7 246.4,146.3 248.3,144.8 249.9,143.0 251.5,141.2 253.4,139.2 255.8,137.9 257.4,135.6 259.6,134.1 260.6,131.9 262.0,129.9 263.6,128.1 265.7,126.5 267.5,124.5 269.7,123.0 272.7,120.0 274.9,118.8 277.4,118.2 279.6,117.0 281.8,115.8 283.4,113.6 284.2,110.9 285.8,108.7 286.8,106.5 288.2,104.5 289.8,102.7 292.8,101.6 295.9,100.6 297.8,99.2 299.9,97.9 301.9,96.6 304.4,95.6 307.0,94.8 309.4,93.5 312.0,92.6 313.9,90.7 315.8,88.9 318.0,87.5 320.2,86.8 322.2,85.8 324.1,84.5 325.4,82.2 326.8,79.8 328.5,77.7 330.0,75.4 332.0,74.4 334.1,73.5 336.1,72.4 337.9,70.9 340.0,69.7 342.0,68.4 344.2,67.4 346.6,66.4 348.9,65.1 351.4,64.3 353.9,63.5 356.3,62.3 358.6,60.1 360.3,57.3 362.2,56.0 364.2,55.0 366.5,54.5 368.3,53.2 370.4,52.3 372.4,49.8 374.4,47.2 376.4,46.3 378.3,45.0 380.3,43.9 382.5,43.2 384.4,41.8 386.7,41.0 388.4,39.2 390.5,38.1 392.4,36.4 394.6,35.1 397.0,34.3 399.5,33.8 402.2,34.0 404.6,33.1 407.4,32.7 410.1,32.0 412.7,31.1 415.3,29.8 418.0,28.8 420.8,28.1 423.5,27.8 426.1,27.4 428.8,27.7 430.9,26.8 432.9,25.9 434.8,24.8 436.9,24.0 439.0,23.2 441.2,22.7 443.4,22.3 445.5,21.4 447.8,21.1 449.9,20.4 452.0,19.5" fill="none" stroke="#b36bfb" stroke-width="1.25" stroke-linejoin="round" stroke-linecap="round"/>
<polyline points="53.5,418.0 55.0,416.3 56.0,414.2 57.3,412.4 58.4,410.4 59.5,408.4 60.8,406.5 62.1,404.7 63.2,402.7 63.8,400.5 65.4,398.8 65.9,396.5 67.3,394.7 68.2,392.6 68.9,390.4 70.2,388.5 71.6,386.6 72.9,384.4 74.3,382.4 75.7,380.3 77.6,378.6 78.9,376.5 80.2,374.4 81.5,372.6 83.2,371.0 84.6,369.3 86.0,367.5 87.5,365.9 88.9,364.1 90.3,362.3 91.8,360.6 93.6,359.2 95.1,357.5 96.5,355.6 98.4,354.3 99.9,352.1 101.0,349.8 102.1,347.4 103.4,345.2 105.6,343.3 108.3,342.0 110.5,340.2 112.7,338.8 114.5,336.9 116.4,335.2 118.7,333.9 120.6,332.1 122.5,330.4 124.7,329.0 126.8,327.5 128.8,325.8 130.6,324.0 133.0,321.8 135.7,320.0 137.5,318.2 139.5,316.7 141.0,314.7 143.0,313.0 144.7,311.2 146.8,309.7 148.1,307.8 149.6,306.0 151.5,304.6 152.8,302.6 154.4,300.9 155.7,299.0 157.6,297.6 158.9,295.6 160.5,293.9 162.5,292.6 163.8,290.6 165.8,289.3 167.6,287.8 169.2,286.1 171.0,284.5 172.4,282.5 173.4,280.3 174.5,278.1 175.4,275.8 176.6,273.6 178.2,271.7 179.0,269.4 181.1,268.3 183.2,267.2 184.9,265.3 187.1,264.4 189.2,263.0 191.2,261.5 193.0,259.7 195.1,258.3 196.6,256.6 198.6,255.5 200.3,254.0 201.8,252.3 203.5,250.8 205.1,249.2 206.6,247.3 208.2,245.4 210.2,244.0 211.6,242.0 213.2,240.2 214.7,237.9 216.2,235.6 217.8,233.4 219.3,231.1 221.1,228.9 222.4,226.2 224.3,224.0 226.4,222.8 228.3,221.3 230.3,220.0 232.3,218.5 234.1,216.8 235.8,215.0 237.6,213.4 239.4,211.7 241.0,209.8 242.7,208.0 244.4,206.1 246.1,204.3 247.8,202.5 249.5,200.6 251.3,199.2 253.3,198.1 254.9,196.4 256.8,195.0 258.8,193.9 260.2,192.0 262.1,190.7 264.2,189.6 265.7,187.8 267.6,186.5 269.3,184.6 270.8,182.5 272.4,180.4 274.2,178.5 275.7,176.5 276.8,174.3 278.6,172.5 279.5,170.3 281.0,168.3 282.7,166.5 283.8,164.4 285.4,162.5 286.9,160.5 288.8,158.8 290.7,157.1 292.2,155.2 293.9,153.3 295.7,151.4 298.0,150.2 299.7,148.2 301.9,146.8 303.9,145.2 305.5,143.4 307.3,141.9 309.2,140.5 310.9,138.9 312.7,137.4 314.5,135.9 316.0,134.1 318.1,132.4 319.9,130.4 322.1,128.9 324.1,127.1 325.9,125.4 327.7,123.7 329.4,121.9 331.1,120.0 331.8,117.6 333.1,115.5 334.3,113.3 335.0,110.9 336.1,108.7 337.7,106.9 339.3,105.0 340.8,103.2 342.8,101.6 344.2,99.6 345.5,97.9 347.3,96.5 348.8,94.8 350.2,93.1 351.8,91.6 353.2,89.8 354.5,88.0 356.3,86.5 358.4,84.9 360.4,83.2 362.4,81.3 364.3,79.5 366.2,78.3 367.7,76.5 369.5,75.1 371.1,73.6 372.9,72.2 374.8,70.9 376.4,69.4 378.8,68.7 381.1,67.6 383.3,66.5 385.5,65.4 386.6,62.9 388.1,60.6 389.5,58.3 391.2,56.6 393.3,55.3 394.7,53.2 396.6,51.7 398.6,50.2 400.6,48.7 402.7,47.3 404.6,45.6 406.5,44.0 408.8,42.9 410.7,41.2 412.7,40.0 414.6,39.0 416.6,37.9 418.9,37.4 420.8,36.1 423.1,34.8 425.6,33.6 427.8,32.1 429.5,30.2 430.9,28.1 433.4,27.2 435.9,26.0 438.5,25.4 440.9,24.0 443.1,23.1 445.3,22.1 447.7,21.6 449.8,20.4 452.0,19.5" fill="none" stroke="#7ccd58" stroke-width="1.25" stroke-linejoin="round" stroke-linecap="round"/>
</g>
<g font-family="'DejaVu Sans', 'Liberation Sans', sans-serif" font-size="11.3" fill="#111" stroke="#111" stroke-width="0.2">
<text x="53.8" y="434.5" text-anchor="middle">0.0</text>
<text x="48.6" y="422.9" text-anchor="end">0.0</text>
<text x="133.5" y="434.5" text-anchor="middle">0.2</text>
<text x="48.6" y="343.2" text-anchor="end">0.2</text>
<text x="213.2" y="434.5" text-anchor="middle">0.4</text>
<text x="48.6" y="263.5" text-anchor="end">0.4</text>
<text x="292.9" y="434.5" text-anchor="middle">0.6</text>
<text x="48.6" y="183.8" text-anchor="end">0.6</text>
<text x="372.6" y="434.5" text-anchor="middle">0.8</text>
<text x="48.6" y="104.1" text-anchor="end">0.8</text>
<text x="452.3" y="434.5" text-anchor="middle">1.0</text>
<text x="48.6" y="24.7" text-anchor="end">1.0</text>
</g>
<g font-family="'DejaVu Sans Condensed', 'DejaVu Sans', 'Liberation Sans', sans-serif" font-weight="bold" font-size="16" fill="#000">
<text x="327.6" y="13.3" text-anchor="middle" textLength="88.6" lengthAdjust="spacingAndGlyphs">ROC curve</text>
<text><tspan x="194.8" y="464.8">1</tspan> <tspan x="212.0" y="463.7" textLength="8.8" lengthAdjust="spacingAndGlyphs">-</tspan> <tspan x="226.4" y="464.8" textLength="85.6" lengthAdjust="spacingAndGlyphs">specificity</tspan></text>
<text transform="translate(13.3,218.8) rotate(-90)" text-anchor="middle" textLength="85.4" lengthAdjust="spacingAndGlyphs">Sensitivity</text>
<text x="617.2" y="40" text-anchor="middle" textLength="111.8" lengthAdjust="spacingAndGlyphs">Source of the</text>
<text x="616.8" y="56.8" text-anchor="middle" textLength="47" lengthAdjust="spacingAndGlyphs">curve</text>
</g>
<text x="327.7" y="492" font-family="'DejaVu Sans', 'Liberation Sans', sans-serif" font-size="12.8" text-anchor="middle" fill="#000" stroke="#000" stroke-width="0.3" textLength="365" lengthAdjust="spacingAndGlyphs">The diagonal section is generated by the binding values.</text>
<g font-family="'DejaVu Sans', 'Liberation Sans', sans-serif" font-size="13" fill="#000" stroke="#000" stroke-width="0.3">
<line x1="548" y1="73.55" x2="573.4" y2="73.55" stroke="#7fb0ec" stroke-width="1.2"/>
<text x="576.6" y="78.9" textLength="25.6" lengthAdjust="spacingAndGlyphs">Age</text>
<line x1="548" y1="89.77" x2="573.4" y2="89.77" stroke="#e0305e" stroke-width="1.3"/>
<text x="576.6" y="95.2" textLength="24.0" lengthAdjust="spacingAndGlyphs">BMI</text>
<line x1="548" y1="105.99" x2="573.4" y2="105.99" stroke="#4f9e50" stroke-width="1.25"/>
<text x="576.6" y="111.5" textLength="26.2" lengthAdjust="spacingAndGlyphs">FBG</text>
<line x1="548" y1="122.21" x2="573.4" y2="122.21" stroke="#f88f60" stroke-width="1.25"/>
<text x="576.6" y="127.8" textLength="18.8" lengthAdjust="spacingAndGlyphs">TG</text>
<line x1="548" y1="138.43" x2="573.4" y2="138.43" stroke="#eadb3a" stroke-width="1.25"/>
<text x="576.6" y="144.1" textLength="42.6" lengthAdjust="spacingAndGlyphs">LDL-C</text>
<line x1="548" y1="154.65" x2="573.4" y2="154.65" stroke="#3fc4b6" stroke-width="1.25"/>
<text x="576.6" y="160.4" textLength="24.8" lengthAdjust="spacingAndGlyphs">ALT</text>
<line x1="548" y1="170.87" x2="573.4" y2="170.87" stroke="#ffcfe3" stroke-width="1.2"/>
<text x="576.6" y="176.7" textLength="24.8" lengthAdjust="spacingAndGlyphs">AST</text>
<line x1="548" y1="187.09" x2="573.4" y2="187.09" stroke="#b36bfb" stroke-width="1.25"/>
<text x="576.6" y="193.0" textLength="19.2" lengthAdjust="spacingAndGlyphs">UA</text>
<line x1="548" y1="203.31" x2="573.4" y2="203.31" stroke="#7ccd58" stroke-width="1.25"/>
<text x="576.6" y="209.3" textLength="24.0" lengthAdjust="spacingAndGlyphs">UCr</text>
<line x1="548" y1="219.53" x2="573.4" y2="219.53" stroke="#6f86c6" stroke-width="1.25"/>
<text x="576.6" y="225.6" textLength="111.2" lengthAdjust="spacingAndGlyphs">Line of reference</text>
</g>
</svg>
</body></html>
